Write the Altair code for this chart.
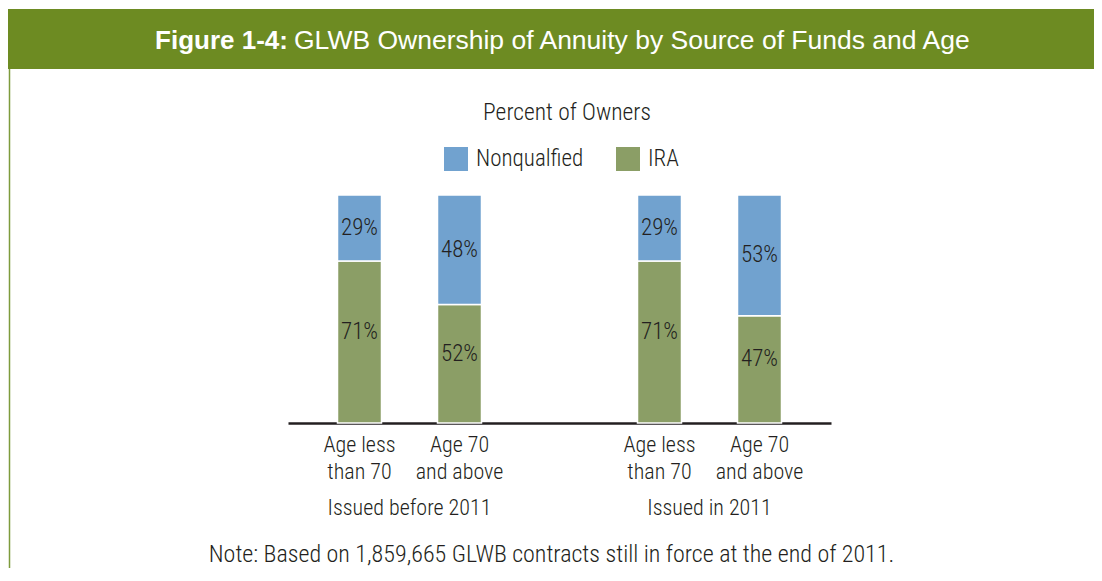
import altair as alt
import pandas as pd

# ---------------- data ----------------
bar_keys = ["b_lt70", "b_ge70", "i_lt70", "i_ge70"]
x_domain = ["b_lt70", "b_ge70", "gap", "i_lt70", "i_ge70"]
age_line1 = ["Age less", "Age 70", "Age less", "Age 70"]
age_line2 = ["than 70", "and above", "than 70", "and above"]
group_keys = ["b_lt70", "i_lt70"]
group_labels = ["Issued before 2011", "Issued in 2011"]
series = ["Nonqualfied", "IRA"]
nonqualified = [29, 48, 29, 53]
ira = [71, 52, 71, 47]

title_bold = "Figure 1-4:"
title_rest = "GLWB Ownership of Annuity by Source of Funds and Age"
subtitle = "Percent of Owners"
note = "Note: Based on 1,859,665 GLWB contracts still in force at the end of 2011."

# ---------------- styles ----------------
NARROW = "Liberation Sans Narrow, Arial Narrow, Roboto Condensed, sans-serif"
WIDE = "Liberation Sans, Arial, sans-serif"
TXT = "#231F20"
HEADER = "#6D8B22"
BORDER = "#7E9B3C"
colors = ["#71A2CF", "#8B9E66"]
LW = 300

rows = []
for k, n, i in zip(bar_keys, nonqualified, ira):
    rows.append({"key": k, "source": "IRA", "value": i, "order": 0})
    rows.append({"key": k, "source": "Nonqualfied", "value": n, "order": 1})
df = pd.DataFrame(rows)
df_lab = pd.DataFrame({"key": bar_keys, "l1": age_line1, "l2": age_line2})
df_grp = pd.DataFrame({"key": group_keys, "label": group_labels})
dummy = pd.DataFrame({"d": [0]})

xenc = alt.X(
    "key:N",
    sort=x_domain,
    scale=alt.Scale(domain=x_domain, paddingInner=0.56, paddingOuter=0.495, align=0.5),
    axis=alt.Axis(labels=False, ticks=False, title=None, grid=False,
                  domainColor=TXT, domainWidth=2.5),
)
yscale = alt.Scale(domain=[0, 100], nice=False, zero=True)

base = (
    alt.Chart(df)
    .transform_stack(stack="value", groupby=["key"], as_=["y0", "y1"],
                     sort=[alt.SortField("order", order="ascending")])
    .transform_calculate(mid="(datum.y0 + datum.y1) / 2", label="datum.value + '%'")
)

bars = base.mark_bar(stroke="white", strokeWidth=1.5).encode(
    x=xenc,
    y=alt.Y("y0:Q", scale=yscale, axis=None),
    y2="y1:Q",
    color=alt.Color(
        "source:N",
        scale=alt.Scale(domain=series, range=colors),
        legend=alt.Legend(
            orient="none", legendX=156, legendY=-48, direction="horizontal",
            title=None, symbolType="square", symbolSize=576, symbolStrokeWidth=0,
            symbolOpacity=1, labelFont=NARROW, labelFontSize=23, labelColor=TXT,
            labelFontWeight=LW, labelOffset=8, columnPadding=32, padding=0, labelLimit=300,
        ),
    ),
)

nq_text = base.transform_filter("datum.source == 'Nonqualfied'").mark_text(
    font=NARROW, fontSize=23, fontWeight=LW, color=TXT, baseline="middle"
).encode(x=xenc, y=alt.Y("mid:Q", scale=yscale, axis=None), text="label:N")

ira_text = base.transform_filter("datum.source == 'IRA'").mark_text(
    font=NARROW, fontSize=23, fontWeight=LW, color=TXT, baseline="middle", dy=-10
).encode(x=xenc, y=alt.Y("mid:Q", scale=yscale, axis=None), text="label:N")

lab1 = alt.Chart(df_lab).mark_text(
    font=NARROW, fontSize=22, fontWeight=LW, color=TXT, baseline="alphabetic"
).encode(x=xenc, y=alt.value(257), text="l1:N")

lab2 = alt.Chart(df_lab).mark_text(
    font=NARROW, fontSize=22, fontWeight=LW, color=TXT, baseline="alphabetic"
).encode(x=xenc, y=alt.value(284), text="l2:N")

grp = alt.Chart(df_grp).mark_text(
    font=NARROW, fontSize=22, fontWeight=LW, color=TXT, baseline="alphabetic", dx=50
).encode(x=xenc, y=alt.value(320), text="label:N")

header = alt.Chart(dummy).mark_rect(color=HEADER).encode(
    x=alt.value(-280), x2=alt.value(806), y=alt.value(-186), y2=alt.value(-126)
)
border = alt.Chart(dummy).mark_rule(color=BORDER, strokeWidth=1.5).encode(
    x=alt.value(-278.5), y=alt.value(-126), y2=alt.value(380)
)
t_bold = alt.Chart(dummy).mark_text(
    font=WIDE, fontWeight="bold", fontSize=26, color="white", align="right", baseline="alphabetic"
).encode(x=alt.value(0), y=alt.value(-146), text=alt.value(title_bold))
t_rest = alt.Chart(dummy).mark_text(
    font=WIDE, fontSize=26.5, color="white", align="left", baseline="alphabetic"
).encode(x=alt.value(6), y=alt.value(-146), text=alt.value(title_rest))
sub = alt.Chart(dummy).mark_text(
    font=NARROW, fontSize=23.5, fontWeight=LW, color=TXT, align="center", baseline="alphabetic"
).encode(x=alt.value(279), y=alt.value(-75), text=alt.value(subtitle))
note_t = alt.Chart(dummy).mark_text(
    font=NARROW, fontSize=24, fontWeight=LW, color=TXT, align="center", baseline="alphabetic"
).encode(x=alt.value(263.5), y=alt.value(367), text=alt.value(note))

chart = (
    alt.layer(header, border, t_bold, t_rest, sub, bars, nq_text, ira_text, lab1, lab2, grp, note_t)
    .properties(
        width=543, height=228,
        autosize=alt.AutoSizeParams(type="none"),
        padding={"left": 280, "top": 187, "right": 263, "bottom": 145},
        background="white",
    )
    .configure_view(stroke=None)
)

chart.save("out.html", embed_options={"renderer": "svg", "actions": False})
